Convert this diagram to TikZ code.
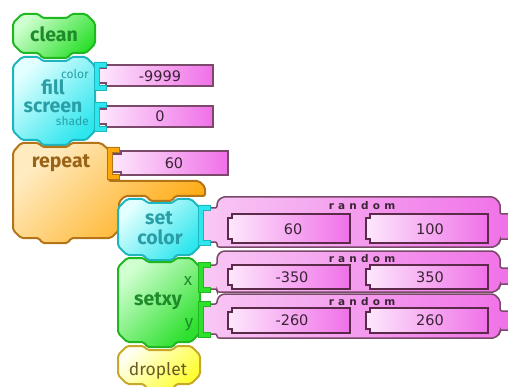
\documentclass[tikz,border=0pt]{standalone}
\usepackage{fontspec}
\setmainfont{Fira Sans}
\newfontfamily\numfont{DejaVu Sans}
\newfontfamily\spacedfont[LetterSpace=40]{DejaVu Sans}

% block palette
\definecolor{gLight}{HTML}{D0FFD0}
\definecolor{gDeep}{HTML}{2EE02E}
\definecolor{gLine}{HTML}{20B820}
\definecolor{gText}{HTML}{1E8A2A}
\definecolor{cLight}{HTML}{E4FFFF}
\definecolor{cDeep}{HTML}{2EE6EE}
\definecolor{cLine}{HTML}{1EB6BE}
\definecolor{cText}{HTML}{2A9EA6}
\definecolor{oLight}{HTML}{FFEBC0}
\definecolor{oDeep}{HTML}{FFA80C}
\definecolor{oLine}{HTML}{B47418}
\definecolor{oText}{HTML}{9A6418}
\definecolor{pLight}{HTML}{FDE8FC}
\definecolor{pMid}{HTML}{F8C8F4}
\definecolor{pDeep}{HTML}{F070E8}
\definecolor{pLine}{HTML}{7A4868}
\definecolor{pDark}{HTML}{5A2A48}
\definecolor{pText}{HTML}{3A2434}
\definecolor{yLight}{HTML}{FFFFF0}
\definecolor{yDeep}{HTML}{FFFF30}
\definecolor{yLine}{HTML}{C8A828}
\definecolor{yText}{HTML}{6A5A24}

% statement block: recess on top, tab below
\newcommand\stmtblock[5]{%
  \draw[#5] (#1,#2+9) -- (#1+9,#2) -- (#1+26,#2) -- (#1+29,#2+4) -- (#1+55,#2+4)
    -- (#1+58,#2) -- (#3-9,#2) -- (#3,#2+9) -- (#3,#4-9) -- (#3-9,#4)
    -- (#1+58,#4) -- (#1+55,#4+5) -- (#1+29,#4+5) -- (#1+26,#4) -- (#1+9,#4)
    -- (#1,#4-9) -- cycle;}
% socket bracket on the right edge of a block
\newcommand\sockbracket[4]{%
  \draw[#4] (#1,#2) -- (#1+12,#2) -- (#1+12,#2+5) -- (#1+5,#2+5) -- (#1+5,#3-5)
    -- (#1+12,#3-5) -- (#1+12,#3) -- (#1,#3) -- cycle;}
% number literal with its plug: plug x, body x, top, right, bottom
\newcommand\litbox[5]{%
  \draw[literal] (#2,#3) -- (#4,#3) -- (#4,#5) -- (#2,#5) -- (#2,#5-3)
    -- (#1,#5-3) -- (#1,#3+3) -- (#2,#3+3) -- cycle;}
% inner slot of a random block: left x, right x, top, bottom
\newcommand\slotbox[4]{%
  \draw[slot] (#1+4,#3) -- (#2,#3) -- (#2,#4) -- (#1+4,#4) -- (#1+4,#4-4)
    -- (#1,#4-4) -- (#1,#3+4) -- (#1+4,#3+4) -- cycle;}
% random block: top, bottom, plug top, plug bottom
\newcommand\randblock[4]{%
  \draw[randshape] (222,#1) -- (494,#1) -- (500,#1+6) -- (500,#1+17) -- (514,#1+17)
    -- (514,#2-8) -- (500,#2-8) -- (500,#2-5) -- (495,#2) -- (217,#2) -- (217,#4)
    -- (203,#4) -- (203,#3) -- (217,#3) -- (217,#1+5) -- cycle;}

\begin{document}
\begin{tikzpicture}[x=1pt,y=-1pt,
  greenblock/.style={draw=gLine,line width=2pt,top color=gLight,bottom color=gDeep,shading angle=45,rounded corners=2pt},
  cyanblock/.style={draw=cLine,line width=2pt,top color=cLight,bottom color=cDeep,shading angle=45,rounded corners=2pt},
  orangeblock/.style={draw=oLine,line width=2pt,top color=oLight,bottom color=oDeep,shading angle=45,rounded corners=2pt},
  yellowblock/.style={draw=yLine,line width=2pt,top color=yLight,bottom color=yDeep,shading angle=45,rounded corners=2pt},
  greensock/.style={draw=gLine,fill=gDeep,line width=0.8pt},
  cyansock/.style={draw=cLine,fill=cDeep,line width=0.8pt},
  orangesock/.style={draw=oLine,fill=oDeep,line width=0.8pt},
  literal/.style={draw=pLine,line width=1.5pt,left color=pLight,right color=pDeep},
  slot/.style={draw=pDark,line width=2.4pt,left color=pLight,right color=pDeep},
  randshape/.style={draw=pLine,line width=1.5pt,left color=pMid,right color=pDeep,rounded corners=2pt},
  blocklabel/.style={font=\fontsize{19.5}{19.5}\selectfont\bfseries,anchor=base,inner sep=0pt},
  smalllabel/.style={font=\fontsize{12}{12}\selectfont,anchor=base east,inner sep=0pt},
  numlabel/.style={font=\numfont\fontsize{14.5}{14.5}\selectfont,text=pText,inner sep=0pt},
  randlabel/.style={font=\spacedfont\bfseries\fontsize{10.5}{10.5}\selectfont,text=pText,inner sep=0pt}]
\useasboundingbox (0,0) rectangle (508,387);
\clip (0,0) rectangle (508,387);

% ---- statement blocks ----
\stmtblock{13}{14}{95}{53}{greenblock}
\stmtblock{13}{57}{95}{140}{cyanblock}
\draw[orangeblock] (13,152) -- (21,143) -- (39,143) -- (42,147) -- (68,147) -- (71,143)
  -- (101,143) -- (109,150) -- (109,181) -- (199,181) -- (205,187) -- (205,196)
  -- (175,196) -- (172,201) -- (150,201) -- (147,196) -- (125,196) -- (119,202)
  -- (119,230) -- (111,238) -- (71,238) -- (68,243) -- (42,243) -- (39,238)
  -- (21,238) -- (13,230) -- cycle;
\stmtblock{118}{199}{200}{255}{cyanblock}
\stmtblock{118}{258}{200}{342}{greenblock}
\stmtblock{118}{346}{200}{384}{yellowblock}

% ---- number literals ----
\litbox{99}{106}{65}{213}{86}
\litbox{99}{106}{106}{213}{127}
\litbox{112}{121}{151}{228}{175}

% ---- random blocks with their two slots ----
\randblock{197}{247}{208}{242}
\slotbox{228}{350}{214}{243}
\slotbox{366}{488}{214}{243}
\randblock{251}{292}{265}{289}
\slotbox{228}{350}{265}{289}
\slotbox{366}{488}{265}{289}
\randblock{294}{338}{304}{334}
\slotbox{228}{350}{308}{333}
\slotbox{366}{488}{308}{333}

% ---- sockets ----
\sockbracket{94}{62}{90}{cyansock}
\sockbracket{94}{102}{131}{cyansock}
\sockbracket{107}{147}{179}{orangesock}
\sockbracket{198}{205}{245}{cyansock}
\sockbracket{198}{262}{292}{greensock}
\sockbracket{198}{301}{337}{greensock}

% ---- labels ----
\node[blocklabel,text=gText] (clean) at (54,42) {clean};
\node[smalllabel,text=cText] (colorlbl) at (89,79) {color};
\node[blocklabel,text=cText] (fill) at (53,95) {fill};
\node[blocklabel,text=cText] (screen) at (53,113) {screen};
\node[smalllabel,text=cText] (shadelbl) at (89,126) {shade};
\node[blocklabel,text=oText] (repeat) at (61,168) {repeat};
\node[blocklabel,text=cText] (set) at (159,225) {set};
\node[blocklabel,text=cText] (setcolor) at (160,244) {color};
\node[blocklabel,text=gText] (setxy) at (158,305) {setxy};
\node[font=\fontsize{17}{17}\selectfont,text=gText,anchor=base,inner sep=0pt] (xlbl) at (188,285) {x};
\node[font=\fontsize{17}{17}\selectfont,text=gText,anchor=base,inner sep=0pt] (ylbl) at (189,327) {y};
\node[font=\fontsize{17.5}{17.5}\selectfont,text=yText,anchor=base,inner sep=0pt] (droplet) at (158,375) {droplet};

\node[numlabel] (n9999) at (160,76) {-9999};
\node[numlabel] (n0) at (160,116.5) {0};
\node[numlabel] (n60) at (174,163) {60};

\node[randlabel] (rand1) at (362,206) {random};
\node[numlabel] (r1a) at (293,229) {60};
\node[numlabel] (r1b) at (430,229) {100};
\node[randlabel] (rand2) at (362,259) {random};
\node[numlabel] (r2a) at (292,277.5) {-350};
\node[numlabel] (r2b) at (430,277.5) {350};
\node[randlabel] (rand3) at (362,302) {random};
\node[numlabel] (r3a) at (292,320.5) {-260};
\node[numlabel] (r3b) at (430,320.5) {260};
\end{tikzpicture}
\end{document}
